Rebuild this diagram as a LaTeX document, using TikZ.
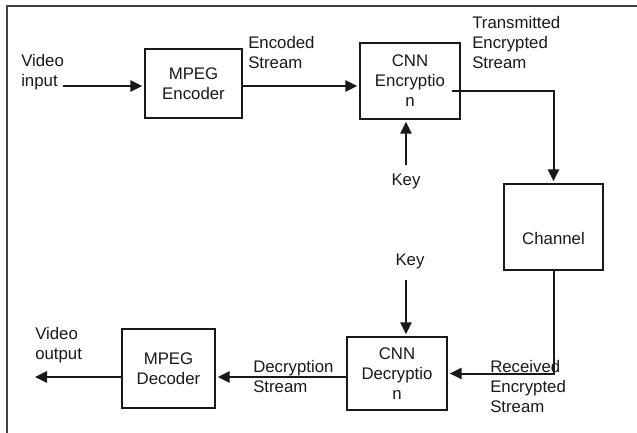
\documentclass[tikz,border=0pt]{standalone}
\usepackage{fontspec}
\setmainfont{Liberation Sans}
\usetikzlibrary{arrows.meta}
\begin{document}
\begin{tikzpicture}[x=0.75pt,y=-0.75pt,
  txt/.style={font={\fontsize{12.6}{15}\selectfont},text=black!90},
  block/.style={txt,draw=black!90,line width=1pt,inner sep=0pt,align=center},
  lbl/.style={txt,inner sep=0pt,align=left,anchor=west},
  flow/.style={draw=black!90,line width=1.5pt,-{Triangle[length=9pt,width=8.5pt]},shorten >=1.5pt},
  frameline/.style={draw=black!75,line width=1pt}]
\useasboundingbox (0,0) rectangle (637,433);
% page frame (top and left edges)
\draw[frameline] (7,433) -- (7,6) -- (637,6);

% processing blocks
\node[block,minimum width=72.75pt,minimum height=51.75pt] (enc) at (193.5,83.5) {MPEG\\Encoder};
\node[block,minimum width=75pt,minimum height=57pt] (cnnE) at (410,81) {CNN\\Encryptio\\n};
\node[block,minimum width=74.25pt,minimum height=64.5pt] (chan) at (553.5,227) {};
\node[txt,inner sep=0pt] (chanT) at (553.5,238) {Channel};
\node[block,minimum width=75pt,minimum height=54.75pt] (cnnD) at (397,373.5) {CNN\\Decryptio\\n};
\node[block,minimum width=69.75pt,minimum height=59.25pt] (dec) at (168.5,368.5) {MPEG\\Decoder};

% labels
\node[lbl] (vin) at (21,72) {Video\\input};
\node[lbl] (encS) at (248,52) {Encoded\\Stream};
\node[lbl] (txS) at (472,42) {Transmitted\\Encrypted\\Stream};
\node[txt,inner sep=0pt] (keyE) at (406,181) {Key};
\node[txt,inner sep=0pt] (keyD) at (410,261) {Key};
\node[lbl] (rxS) at (490,386) {Received\\Encrypted\\Stream};
\node[lbl] (decS) at (253,376) {Decryption\\Stream};
\node[lbl] (vout) at (35,345) {Video\\output};

% connectors
\coordinate (vinEnd) at (63,86);
\draw[flow] (vinEnd) -- (enc.west |- vinEnd);
\path (enc.east) ++(0,2.5) coordinate (e1);
\draw[flow] (e1) -- (cnnE.west |- e1);
\coordinate (e2) at (452,91);
\draw[flow] (e2) -| (chan.north);
\coordinate (k1) at (406,165);
\draw[flow] (k1) -- (k1 |- cnnE.south);
\draw[flow] (chan.south) |- (cnnD.east);
\coordinate (k2) at (406,280);
\draw[flow] (k2) -- (k2 |- cnnD.north);
\path (cnnD.west) ++(0,3.5) coordinate (d1);
\draw[flow] (d1) -- (dec.east |- d1);
\coordinate (oEnd) at (33,377);
\draw[flow] (dec.west |- oEnd) -- (oEnd);
\end{tikzpicture}
\end{document}
